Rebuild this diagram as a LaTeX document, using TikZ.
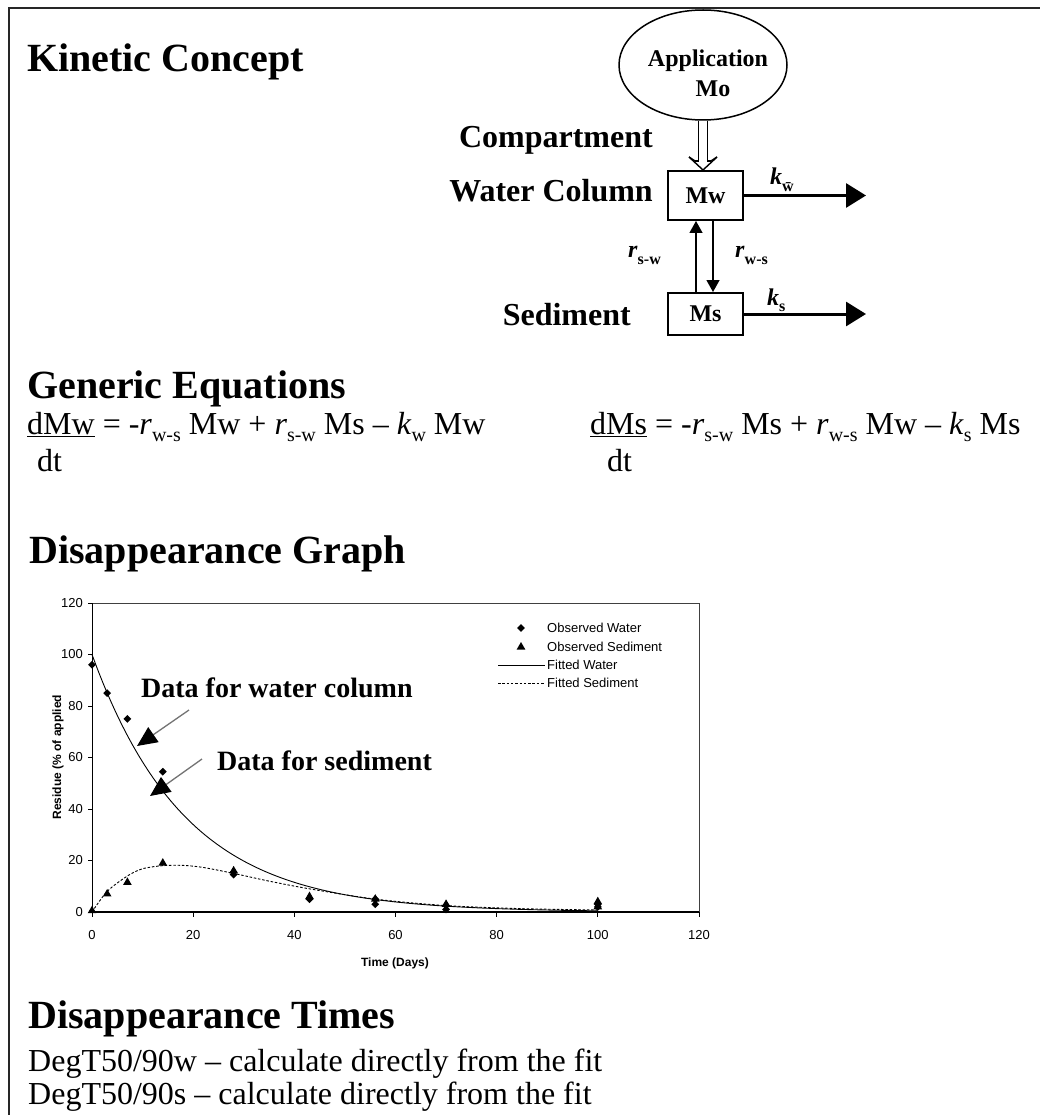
\documentclass[tikz,border=0pt]{standalone}
\usepackage{fontspec}
\setmainfont{Liberation Serif}
\newfontfamily\chartfont{Liberation Sans}
\usetikzlibrary{shapes.geometric,arrows.meta}
\newcommand\eqsub[1]{\raisebox{-0.22em}{\fontsize{20}{20}\selectfont #1}}
\newcommand\lblsub[1]{\raisebox{-0.28em}{\fontsize{16}{16}\selectfont\bfseries #1}}
\begin{document}
\begin{tikzpicture}[x=1pt,y=-1pt,
  heading/.style={anchor=base west,inner sep=0,font=\fontsize{40}{44}\selectfont\bfseries},
  body/.style={anchor=base west,inner sep=0,font=\fontsize{32}{36}\selectfont},
  side/.style={anchor=base east,inner sep=0,font=\fontsize{32}{36}\selectfont\bfseries},
  cbox/.style={draw,line width=2pt,minimum width=75pt,minimum height=49pt,inner sep=0,font=\fontsize{24}{26}\selectfont\bfseries},
  rate/.style={anchor=base west,inner sep=0,font=\fontsize{24}{26}\selectfont\bfseries},
  outflow/.style={line width=3pt,-{Triangle[length=20pt,width=24pt]}},
  exch/.style={line width=1.3pt,-{Triangle[length=12pt,width=13pt]}},
  inflow/.style={line width=1.4pt,line join=miter,line cap=butt},
  ann/.style={anchor=base west,inner sep=0,font=\fontsize{28}{30}\selectfont\bfseries},
  annarrow/.style={line width=1.3pt,black!55,-{Triangle[length=20pt,width=18pt,black]}},
  ctext/.style={inner sep=0,font=\chartfont\fontsize{13}{15}\selectfont},
  ctitle/.style={inner sep=0,font=\chartfont\bfseries\fontsize{12}{14}\selectfont},
  wmark/.style={diamond,fill,inner sep=0,minimum size=8pt},
  smark/.style={regular polygon,regular polygon sides=3,fill,inner sep=0,minimum size=10pt},
]
\useasboundingbox (0,0) rectangle (1040,1115);
\fill[white] (0,0) rectangle (1040,1115);
% frame
\draw[line width=2pt,black!85] (9,1115) -- (9,8) -- (1040,8);

% headings
\node[heading] (h1) at (27,72) {Kinetic Concept};
\node[heading] (h2) at (27,398) {Generic Equations};
\node[heading] (h3) at (29,563) {Disappearance Graph};
\node[heading] (h4) at (28,1028) {Disappearance Times};

% compartment diagram
\node[draw,ellipse,line width=1.5pt,minimum width=168pt,minimum height=110pt,inner sep=0] (app) at (703,65) {};
\node[anchor=base,inner sep=0,font=\fontsize{24}{26}\selectfont\bfseries] (appt1) at (708,67) {Application};
\node[anchor=base,inner sep=0,font=\fontsize{24}{26}\selectfont\bfseries] (appt2) at (713,97) {Mo};
\node[cbox] (mw) at (705.5,195.5) {Mw};
\node[cbox,minimum height=42pt] (ms) at (705.5,314) {Ms};
\node[side] (lc) at (653,148) {Compartment};
\node[side] (lw) at (653,202) {Water Column};
\node[side] (ls) at (631,325) {Sediment};

% application inflow: open double arrow
\coordinate (tipA) at (app.south |- mw.north);
\draw[inflow] ([xshift=-4.5pt]app.south) -- ([xshift=-4.5pt,yshift=9pt]tipA) -- ([xshift=-8pt,yshift=9pt]tipA);
\draw[inflow] ([xshift=4.5pt]app.south) -- ([xshift=4.5pt,yshift=9pt]tipA) -- ([xshift=8pt,yshift=9pt]tipA);
\draw[inflow] ([xshift=-14pt,yshift=13pt]tipA) -- (tipA) -- ([xshift=14pt,yshift=13pt]tipA);
\draw[inflow] ([xshift=-8pt,yshift=9pt]tipA) -- ([xshift=-14pt,yshift=13pt]tipA);
\draw[inflow] ([xshift=8pt,yshift=9pt]tipA) -- ([xshift=14pt,yshift=13pt]tipA);

\draw[exch] ([xshift=-9.5pt]ms.north) -- ([xshift=-9.5pt]mw.south);
\draw[exch] ([xshift=7.5pt]mw.south) -- ([xshift=7.5pt]ms.north);
\coordinate (kwend) at (866,195.5);
\coordinate (ksend) at (866,314);
\draw[outflow] (mw.east) -- (kwend);
\draw[outflow] (ms.east) -- (ksend);
\node[rate] (kw) at (770,185) {\textit{k}\lblsub{\=w}};
\node[rate] (ks) at (767,305) {\textit{k}\lblsub{s}};
\node[rate] (rsw) at (628,258) {\textit{r}\lblsub{s-w}};
\node[rate] (rws) at (735,258) {\textit{r}\lblsub{w-s}};

% equations
\node[body] (eq1) at (27,434) {\underline{dMw} = -\textit{r}\eqsub{w-s} Mw + \textit{r}\eqsub{s-w} Ms -- \textit{k}\eqsub{w} Mw};
\node[body] (dt1) at (37,471) {dt};
\node[body] (eq2) at (590,434) {\underline{dMs} = -\textit{r}\eqsub{s-w} Ms + \textit{r}\eqsub{w-s} Mw -- \textit{k}\eqsub{s} Ms};
\node[body] (dt2) at (607,471) {dt};

% chart
\begin{scope}[shift={(92pt,-912pt)},x=5.058pt,y=2.575pt]
  \draw[line width=0.8pt,black!75] (0,0) rectangle (120,120);
  \draw[line width=1.6pt] (0,0) -- (120,0);
  \draw[line width=1pt] (0,0) -- (0,120);
  \foreach \v in {0,20,...,120}{
    \draw[line width=0.8pt] (0,\v) -- ++(-4pt,0);
    \node[ctext,anchor=east] (yt\v) at ([xshift=-9pt]0,\v) {\v};
    \draw[line width=0.8pt] (\v,0) -- ++(0,-5pt);
    \node[ctext,anchor=north] (xt\v) at ([yshift=-18pt]\v,0) {\v};
  }
  % fitted curves
  \draw[line width=0.9pt] plot[domain=0:100,samples=90,smooth] (\x,{100*exp(-0.054*\x)});
  \draw[line width=0.9pt,dash pattern=on 2.5pt off 1.8pt] plot[smooth] coordinates {(0,0) (3,8) (7,14) (10,16.8) (14,18) (18,18.1) (22,17.3) (28,15) (35,12) (43,9) (56,5) (70,2.5) (85,1.3) (100,0.8)};
  % observed water
  \foreach \t/\v [count=\i] in {0/96,3/85,7/75,14/54.5,28/15.5,28/14.5,43/5,56/3,56/5,70/1,70/2.5,100/2,100/3}
    \node[wmark] (w\i) at (\t,\v) {};
  % observed sediment
  \foreach \t/\v [count=\i] in {0/0.5,3/7,7/11.5,14/19,28/16,43/6,56/5,70/3,100/4,100/2}
    \node[smark] (s\i) at (\t,\v) {};
\end{scope}
\node[ctitle] (xlab) at (395,963) {Time (Days)};
\node[ctitle,rotate=90] (ylab) at (58,757) {Residue (\% of applied};

% legend
\node[wmark] (lgw) at (521,628) {};
\node[ctext,anchor=west] (lgwt) at (547,628) {Observed Water};
\node[smark] (lgs) at (521,647) {};
\node[ctext,anchor=west] (lgst) at (547,647) {Observed Sediment};
\coordinate (lfw1) at (498,665); \coordinate (lfw2) at (545,665);
\draw[line width=0.9pt] (lfw1) -- (lfw2);
\node[ctext,anchor=west] (lgfw) at (547,665) {Fitted Water};
\coordinate (lfs1) at (498,683); \coordinate (lfs2) at (545,683);
\draw[line width=0.9pt,dash pattern=on 2.5pt off 1.8pt] (lfs1) -- (lfs2);
\node[ctext,anchor=west] (lgfs) at (547,683) {Fitted Sediment};

% annotations
\node[ann] (dw) at (141,697) {Data for water column};
\node[ann] (ds) at (217,770) {Data for sediment};
\coordinate (a1s) at (189,710); \coordinate (a1e) at (137,746);
\coordinate (a2s) at (202,759); \coordinate (a2e) at (150,796);
\draw[annarrow] (a1s) -- (a1e);
\draw[annarrow] (a2s) -- (a2e);

% disappearance times
\node[body] (t1) at (28,1071) {DegT50/90w -- calculate directly from the fit};
\node[body] (t2) at (28,1104) {DegT50/90s -- calculate directly from the fit};
\end{tikzpicture}
\end{document}
